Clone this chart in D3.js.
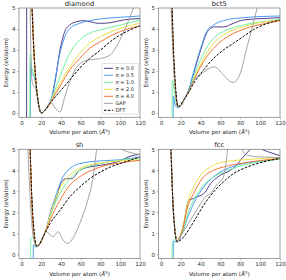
<!DOCTYPE html>
<html>
<head>
<meta charset="utf-8">
<script src="https://cdn.jsdelivr.net/npm/d3@7"></script>
<style>
  body { margin: 0; background: #fff; }
  text { font-family: "DejaVu Sans", sans-serif; }
</style>
</head>
<body>
<script>
// series names and colours
const seriesNames = ["σ = 0.0", "σ = 0.5", "σ = 1.0", "σ = 2.0", "σ = 4.0", "GAP", "DFT"];
const seriesColors = ["#4e3f85", "#4b9bf2", "#76f0a2", "#e9e24a", "#f27535", "#999999", "#000000"];
const panelTitles = ["diamond", "bct5", "sh", "fcc"];
const xTicks = [0, 20, 40, 60, 80, 100, 120];
const yTicks = [0, 1, 2, 3, 4, 5];

// [volume, energy], one list per series per panel
const diamond = [
  [[5.2,-0.5],[5.3,6],[10.5,6],[11.5,4.2],[13,2.6],[15,1.3],[17,0.5],[20,0],[23,0.1],[28,0.4],[31,0.8],[34,1.5],[39,3.0],[44,3.9],[49,4.2],[56,4.35],[63,4.4],[69,4.35],[79,4.27],[90,4.3],[103,4.43],[120,4.5]],
  [[9,-0.5],[9.3,2.4],[10.5,1.9],[13,1.7],[15,1.2],[17,0.5],[20,0],[23,0.1],[28,0.45],[31,0.8],[34,1.58],[39,2.85],[44,3.64],[49,4.03],[59,4.27],[69,4.4],[80,4.48],[100,4.56],[120,4.62]],
  [[8.5,-0.5],[8.7,2.8],[10,2.3],[12,1.9],[14,1.6],[16,0.9],[18,0.3],[20,0],[23,0.1],[28,0.42],[34,1.1],[39,1.74],[49,2.85],[59,3.48],[69,3.8],[80,3.96],[100,4.19],[120,4.43]],
  [[9.5,6],[11,4.6],[13,2.6],[15,1.3],[17,0.5],[20,0],[23,0.1],[28,0.4],[34,0.95],[39,1.42],[49,2.2],[59,2.85],[69,3.32],[80,3.64],[100,4.03],[120,4.27]],
  [[9.5,6],[11,4.6],[13,2.6],[15,1.3],[17,0.5],[20,0],[23,0.1],[28,0.4],[34,0.88],[39,1.27],[49,2.06],[59,2.6],[69,3.08],[80,3.4],[100,3.88],[120,4.15]],
  [[8.5,6],[9.5,3],[10.5,1.6],[12,1.3],[14,1.2],[16,0.8],[18,0.3],[20,0],[23,0.1],[28,0.45],[30,0.5],[34,0.25],[39,0.05],[44,0.8],[49,1.5],[56,2.2],[66,2.5],[80,2.6],[90,2.77],[96,3.16],[103,3.8],[110,4.6],[115,5.2]],
  [[10,5.5],[11,4.6],[12,3.5],[13,2.6],[14,1.9],[15,1.3],[16,0.85],[17,0.5],[18,0.25],[19,0.08],[20,0],[21,0.02],[23,0.1],[25,0.2],[29,0.47],[39,1.03],[49,1.58],[59,2.14],[69,2.6],[80,3.0],[90,3.4],[100,3.72],[110,3.96],[120,4.15]]
];
const bct5 = [
  [[10,6],[11.5,4.2],[13,2.3],[15,0.9],[17,0.3],[20,0.35],[23,0.63],[28,1.1],[33,1.9],[40,3.0],[46,3.8],[50,4.03],[53,4.1],[63,4.1],[73,4.27],[83,4.43],[103,4.5],[120,4.54]],
  [[12.2,-0.5],[12.5,0.8],[14.5,0.35],[17,0.25],[20,0.33],[23,0.6],[28,1.1],[33,1.98],[40,3.08],[46,3.88],[53,4.19],[63,4.4],[83,4.54],[120,4.62]],
  [[11.2,-0.5],[11.4,1.58],[12.5,1.4],[14,0.8],[17,0.3],[20,0.35],[23,0.63],[28,1.05],[33,1.74],[43,2.85],[53,3.56],[63,3.88],[83,4.19],[103,4.35],[120,4.46]],
  [[10,6],[11.5,4.2],[13,2.3],[15,0.9],[17,0.3],[20,0.35],[23,0.63],[28,1.0],[33,1.6],[43,2.6],[53,3.32],[63,3.72],[83,4.11],[120,4.43]],
  [[10,6],[11.5,4.2],[13,2.3],[15,0.9],[17,0.3],[20,0.35],[23,0.63],[28,1.0],[33,1.55],[43,2.45],[53,3.08],[63,3.5],[83,3.99],[103,4.24],[120,4.4]],
  [[9.5,6],[10.5,4.6],[12,3.0],[13,2.0],[15,0.9],[17,0.3],[20,0.35],[23,0.63],[28,1.05],[33,1.58],[40,1.82],[46,2.06],[54,2.2],[63,1.82],[70,1.5],[73,1.46],[80,1.9],[86,3.0],[93,4.27],[98,5.2]],
  [[10.5,6],[11.3,5],[12.5,3.2],[14,1.8],[15.5,0.8],[17,0.32],[19,0.36],[23,0.63],[28,1.0],[33,1.42],[43,2.06],[53,2.6],[63,3.0],[73,3.32],[83,3.64],[93,3.96],[103,4.19],[120,4.43]]
];
const sh = [
  [[8,6],[9,4.6],[10.5,2.5],[12.5,1.0],[15,0.4],[18,0.45],[22,0.84],[25,1.2],[29,1.87],[35.6,2.74],[40.7,3.45],[45.7,3.6],[50.8,3.6],[59,4.0],[69,4.16],[80,4.24],[100,4.45],[110,4.67],[120,4.76]],
  [[11.8,-0.5],[12.1,0.45],[14,0.35],[16,0.38],[19,0.55],[22,0.84],[25,1.2],[29,1.95],[35.6,2.9],[42,3.69],[49,4.08],[59,4.32],[80,4.45],[100,4.5],[120,4.64]],
  [[9.2,-0.5],[9.4,0.76],[12,0.8],[14,0.45],[16,0.38],[19,0.55],[22,0.84],[25,1.15],[29,1.79],[39,2.9],[49,3.6],[59,4.0],[80,4.32],[100,4.48],[120,4.56]],
  [[8,6],[9,4.6],[10.5,2.5],[12.5,1.0],[15,0.4],[18,0.45],[22,0.84],[25,1.2],[29,1.87],[39,3.13],[49,3.77],[59,4.08],[80,4.35],[120,4.5]],
  [[8,6],[9,4.6],[10.5,2.5],[12.5,1.0],[15,0.4],[18,0.45],[22,0.84],[25,1.15],[29,1.63],[39,2.58],[49,3.3],[59,3.69],[80,4.16],[100,4.35],[120,4.48]],
  [[5.5,6],[7,4.5],[9,2.5],[11,1.2],[13,0.6],[15,0.42],[18,0.5],[22,0.84],[25.5,1.08],[29,0.92],[32,0.84],[37,1.08],[42,0.68],[47,0.52],[52,0.76],[59,1.47],[66,2.4],[73,3.84],[76,5.0],[78,6],[98,6],[100,5.05],[110,4.85],[120,4.75]],
  [[8.3,6],[9,4.7],[10,3.3],[11.5,1.9],[13,1.0],[14.5,0.5],[15.5,0.36],[18,0.45],[22,0.84],[29,1.47],[39,2.1],[49,2.74],[59,3.2],[69,3.6],[80,3.92],[90,4.16],[100,4.32],[120,4.64]]
];
const fcc = [
  [[9.5,6],[10.5,4.5],[12,2.5],[14,1.2],[16.3,0.6],[19,0.75],[23,1.47],[28,2.58],[33,2.66],[36,2.74],[41,2.82],[44.7,2.97],[50,3.37],[55,3.6],[60,3.77],[70,4.0],[76,4.24],[83,4.64],[90,5.0],[95,5.25],[100,5.05],[110,4.85],[120,4.7]],
  [[12.2,-0.5],[12.5,0.6],[14.5,0.6],[16.3,0.6],[19,0.8],[23,1.2],[26,1.63],[33,2.42],[43,3.2],[53,3.69],[63,4.0],[73,4.19],[83,4.32],[103,4.45],[120,4.56]],
  [[11.2,-0.5],[11.5,0.6],[13.5,0.7],[16.3,0.6],[19,0.8],[23,1.25],[26,1.79],[33,2.58],[43,3.3],[53,3.69],[63,3.92],[83,4.24],[120,4.53]],
  [[9.5,6],[10.5,4.5],[12,2.5],[14,1.2],[16.3,0.6],[19,0.84],[23,1.5],[26,2.26],[33,3.2],[40,3.77],[50,4.16],[63,4.4],[83,4.5],[120,4.6]],
  [[9.5,6],[10.5,4.5],[12,2.5],[14,1.2],[16.3,0.6],[19,0.84],[23,1.4],[26,2.1],[33,2.9],[43,3.69],[53,4.0],[63,4.16],[83,4.35],[103,4.48],[120,4.56]],
  [[9.5,6],[10.5,4.5],[12,2.5],[14,1.2],[16.3,0.6],[19,0.8],[23,1.1],[28,1.5],[33,1.87],[40,2.42],[45,2.75],[50,2.9],[56,3.3],[63,3.69],[66,4.48],[68,5.2],[78,5.3],[85,4.75],[95,4.65],[110,4.62],[120,4.6]],
  [[9.3,6],[10,5],[11.5,3],[13,1.7],[14.5,0.9],[16.3,0.6],[19,0.65],[23,0.84],[33,1.55],[43,2.34],[53,2.97],[63,3.45],[73,3.84],[83,4.08],[103,4.4],[120,4.56]]
];
const panelData = [diamond, bct5, sh, fcc];

const W = 286, H = 280;
const svg = d3.select("body").append("svg").attr("width", W).attr("height", H);

const colX = [[19, 140], [158.5, 280]];
const rowY = [[117.3, 8], [258.5, 149.3]];

panelData.forEach((series, i) => {
  const xr = colX[i % 2], yr = rowY[Math.floor(i / 2)];
  const x = d3.scaleLinear().domain([-2.5, 120]).range(xr);
  const y = d3.scaleLinear().domain([-0.2, 5]).range(yr);
  const g = svg.append("g");

  const clipId = "clip" + i;
  svg.append("clipPath").attr("id", clipId).append("rect")
    .attr("x", xr[0]).attr("y", yr[1]).attr("width", xr[1] - xr[0]).attr("height", yr[0] - yr[1]);

  const line = d3.line().x(d => x(d[0])).y(d => y(d[1])).curve(d3.curveMonotoneX);
  const lines = g.append("g").attr("clip-path", "url(#" + clipId + ")");
  series.forEach((pts, k) => {
    lines.append("path")
      .attr("d", line(pts))
      .attr("fill", "none")
      .attr("stroke", seriesColors[k])
      .attr("stroke-width", k == 5 ? 0.9 : 1)
      .attr("stroke-dasharray", k == 6 ? "2.6,1.4" : null);
  });

  // frame
  g.append("rect").attr("x", xr[0]).attr("y", yr[1])
    .attr("width", xr[1] - xr[0]).attr("height", yr[0] - yr[1])
    .attr("fill", "none").attr("stroke", "#888").attr("stroke-width", 0.8);

  const xa = g.append("g").attr("transform", "translate(0," + yr[0] + ")")
    .call(d3.axisBottom(x).tickValues(xTicks).tickFormat(d3.format("d")).tickSize(2).tickPadding(1.5));
  const ya = g.append("g").attr("transform", "translate(" + xr[0] + ",0)")
    .call(d3.axisLeft(y).tickValues(yTicks).tickFormat(d3.format("d")).tickSize(2).tickPadding(1.5));
  [xa, ya].forEach(a => {
    a.select(".domain").remove();
    a.selectAll("line").attr("stroke", "#888").attr("stroke-width", 0.6);
    a.selectAll("text").attr("font-size", 5.6).attr("fill", "#333")
      .style("font-family", "DejaVu Sans");
  });

  g.append("text").attr("x", (xr[0] + xr[1]) / 2).attr("y", yr[1] - 2)
    .attr("text-anchor", "middle").attr("font-size", 6.7).attr("fill", "#222")
    .text(panelTitles[i]);

  const xl = g.append("text").attr("x", (xr[0] + xr[1]) / 2).attr("y", yr[0] + 17)
    .attr("text-anchor", "middle").attr("font-size", 5.6).attr("fill", "#222");
  xl.append("tspan").text("Volume per atom (");
  xl.append("tspan").attr("font-style", "italic").text("Å");
  xl.append("tspan").attr("font-size", 4).attr("dy", -2).text("3");
  xl.append("tspan").attr("dy", 2).text(")");

  g.append("text")
    .attr("transform", "translate(" + (xr[0] - 11) + "," + ((yr[0] + yr[1]) / 2) + ") rotate(-90)")
    .attr("text-anchor", "middle").attr("font-size", 5.6).attr("fill", "#222")
    .text("Energy (eV/atom)");

  if (i == 0) {
    const lg = g.append("g");
    lg.append("rect").attr("x", 102).attr("y", 63.5).attr("width", 36.5).attr("height", 50.5)
      .attr("rx", 1.5).attr("fill", "#fff").attr("fill-opacity", 0.85)
      .attr("stroke", "#ccc").attr("stroke-width", 0.6);
    seriesNames.forEach((name, k) => {
      const yy = 68.3 + k * 7;
      lg.append("line").attr("x1", 104).attr("x2", 113).attr("y1", yy).attr("y2", yy)
        .attr("stroke", seriesColors[k]).attr("stroke-width", 1)
        .attr("stroke-dasharray", k == 6 ? "2.6,1.4" : null);
      lg.append("text").attr("x", 115.5).attr("y", yy + 1.8)
        .attr("font-size", 5).attr("fill", "#222").text(name);
    });
  }
});
</script>
</body>
</html>
